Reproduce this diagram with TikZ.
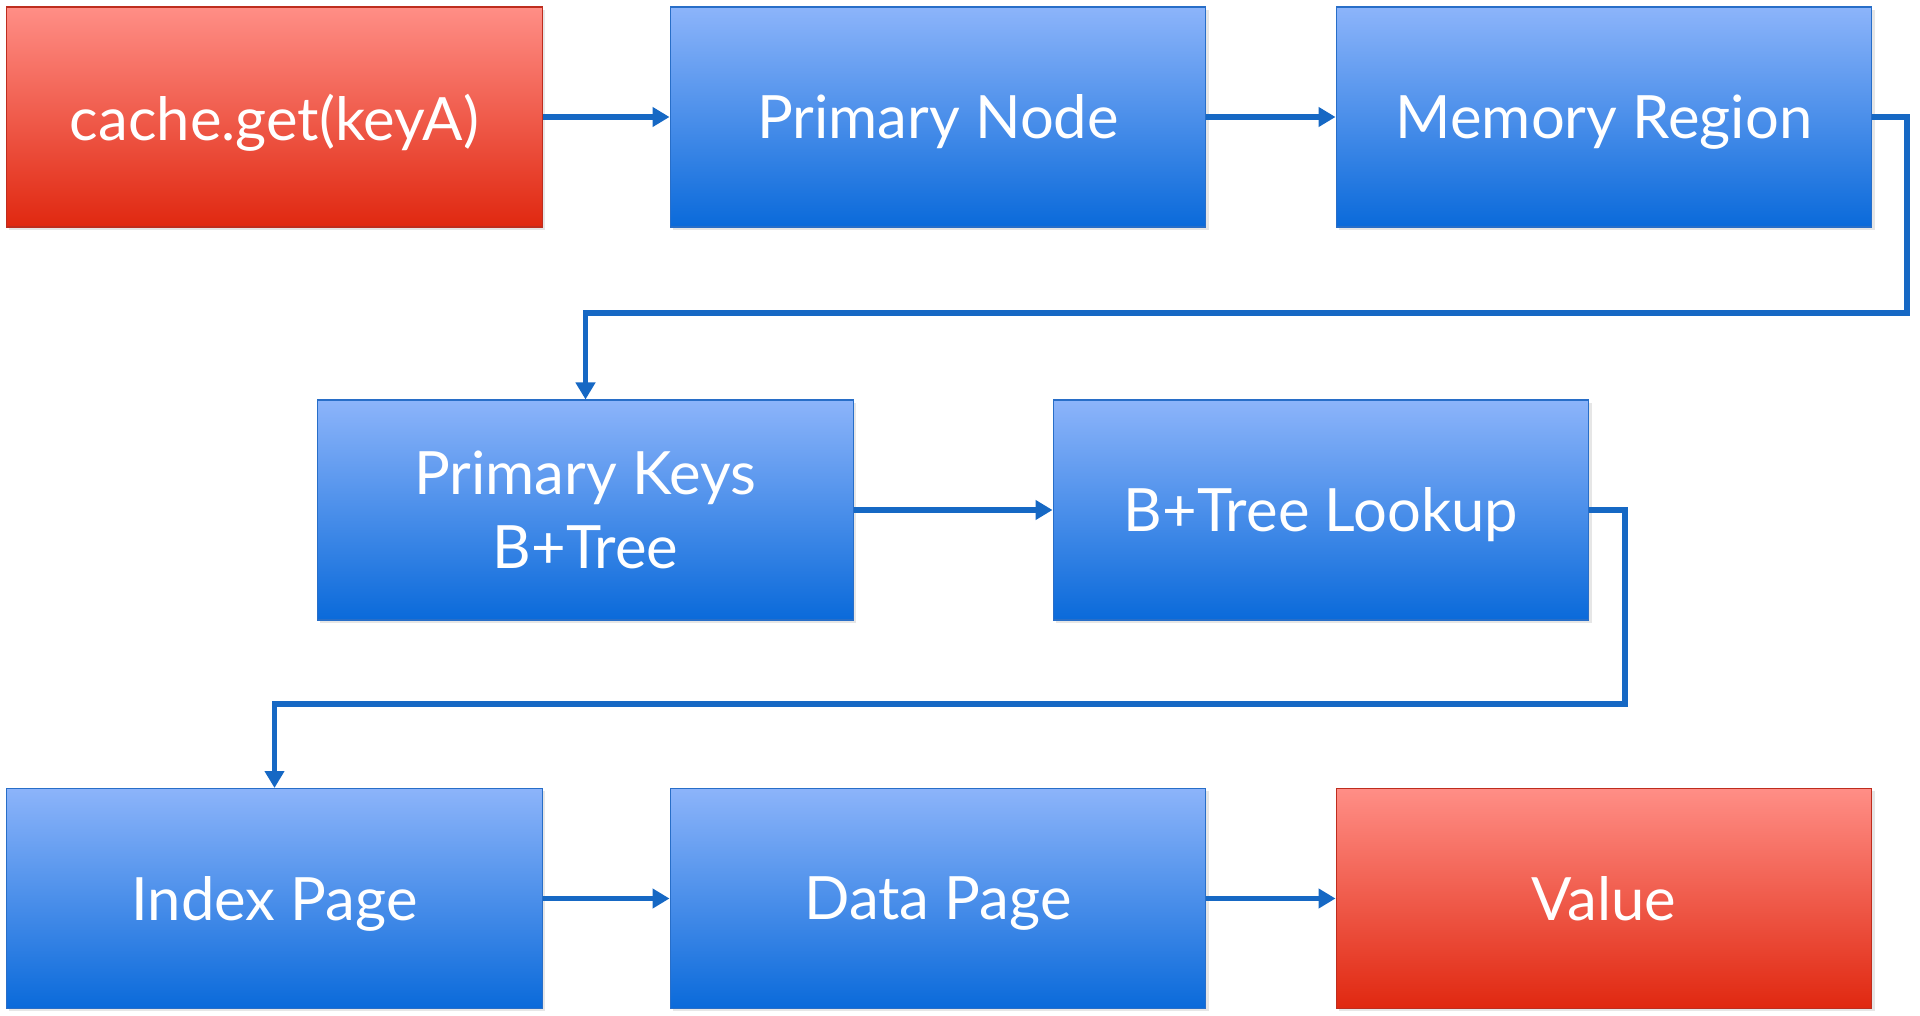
\documentclass[tikz,border=0pt]{standalone}
\usepackage{fontspec}
\setmainfont{Lato}
\usepackage{tikz}
\usetikzlibrary{arrows.meta, shadows}
\usepackage{xcolor}
\definecolor{bluetop}{RGB}{140, 180, 250}
\definecolor{bluebottom}{RGB}{10, 106, 218}
\definecolor{blueedge}{RGB}{40, 110, 200}
\definecolor{redtop}{RGB}{255, 142, 134}
\definecolor{redbottom}{RGB}{224, 40, 16}
\definecolor{rededge}{RGB}{190, 45, 30}
\definecolor{linkblue}{RGB}{22, 104, 196}

\begin{document}
\begin{tikzpicture}[
    x=0.02cm, y=-0.02cm,
    component/.style={rectangle, draw=blueedge, top color=bluetop, bottom color=bluebottom, minimum width=10.72cm, minimum height=4.4cm, align=center, text=white, text depth=0pt, font=\fontsize{34}{42}\selectfont, line width=0.6pt, drop shadow={opacity=0.2, shadow xshift=1.5pt, shadow yshift=-1.5pt}},
    endpoint/.style={component, draw=rededge, top color=redtop, bottom color=redbottom},
    arrow/.style={-{Triangle[length=0.34cm, width=0.38cm]}, line width=3pt, color=linkblue},
]
\useasboundingbox (0,0) rectangle (1920,1016);

% first row
\node[endpoint] (request) at (274.5, 117) {cache.get(keyA)};
\node[component] (primary) at (938, 117) {Primary Node};
\node[component] (memory) at (1604, 117) {Memory Region};

\draw[arrow] (request) -- (primary);
\draw[arrow] (primary) -- (memory);

% second row
\node[component] (pkeys) at (585.5, 510) {Primary Keys\\B+Tree};
\node[component] (lookup) at (1321, 510) {B+Tree Lookup};

\coordinate (turnA) at (1907, 313);
\draw[arrow] (memory.east) -| (turnA) -| (pkeys.north);
\draw[arrow] (pkeys) -- (lookup);

% third row
\node[component] (index) at (274.5, 898.5) {Index Page};
\node[component] (data) at (938, 898.5) {Data Page};
\node[endpoint] (value) at (1604, 898.5) {Value};

\coordinate (turnB) at (1625, 704);
\draw[arrow] (lookup.east) -| (turnB) -| (index.north);
\draw[arrow] (index) -- (data);
\draw[arrow] (data) -- (value);

\end{tikzpicture}
\end{document}
